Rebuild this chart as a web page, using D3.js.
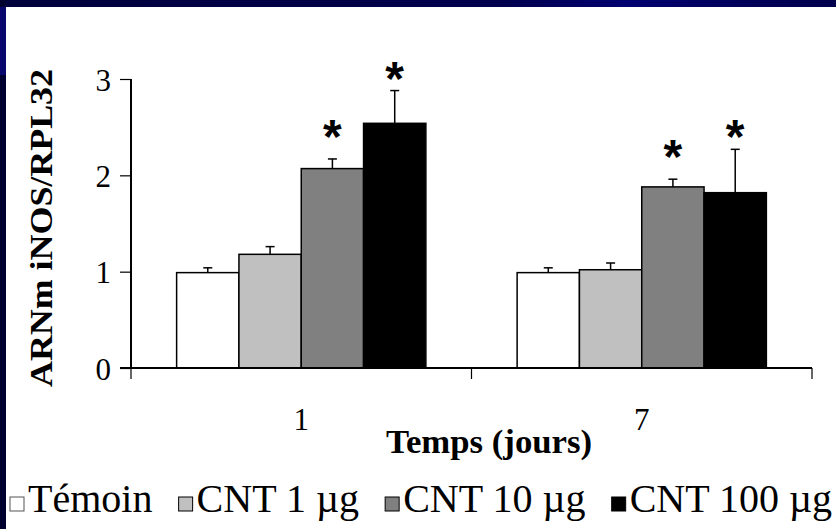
<!DOCTYPE html>
<html>
<head>
<meta charset="utf-8">
<script src="https://cdn.jsdelivr.net/npm/d3@7"></script>
<style>
  html, body { margin: 0; padding: 0; background: #ffffff; }
  svg { display: block; }
  .serif { font-family: "Liberation Serif", Tinos, "Times New Roman", Times, "DejaVu Serif", serif; }
  .sans { font-family: "Liberation Sans", Arimo, Arial, Helvetica, sans-serif; }
</style>
</head>
<body>
<svg id="chart" width="836" height="529"></svg>
<script>
// ---- data ----
const categories = ["1", "7"];
const seriesNames = ["Témoin", "CNT 1 µg", "CNT 10 µg", "CNT 100 µg"];
const temoinValues = [0.99, 0.99];
const cnt1Values   = [1.18, 1.02];
const cnt10Values  = [2.07, 1.88];
const cnt100Values = [2.54, 1.82];
const temoinErr = [0.05, 0.05];
const cnt1Err   = [0.08, 0.07];
const cnt10Err  = [0.10, 0.08];
const cnt100Err = [0.34, 0.45];
const temoinSig = [false, false];
const cnt1Sig   = [false, false];
const cnt10Sig  = [true, true];
const cnt100Sig = [true, true];
const yTicks = [0, 1, 2, 3];
const xTitle = "Temps (jours)";
const yTitle = "ARNm iNOS/RPL32";

// ---- styles ----
const seriesColors = ["#ffffff", "#c0c0c0", "#808080", "#000000"];
const starGap = [0, 0, 33, 23];

const values = [temoinValues, cnt1Values, cnt10Values, cnt100Values];
const errs = [temoinErr, cnt1Err, cnt10Err, cnt100Err];
const sigs = [temoinSig, cnt1Sig, cnt10Sig, cnt100Sig];

const svg = d3.select("#chart");

// slide frame
const defs = svg.append("defs");
const g1 = defs.append("linearGradient").attr("id", "topbar").attr("x1", "0").attr("x2", "1");
g1.append("stop").attr("offset", "0").attr("stop-color", "#00003c");
g1.append("stop").attr("offset", "0.6").attr("stop-color", "#00004e");
g1.append("stop").attr("offset", "0.75").attr("stop-color", "#000070");
g1.append("stop").attr("offset", "0.85").attr("stop-color", "#000060");
g1.append("stop").attr("offset", "1").attr("stop-color", "#00004c");
svg.append("rect").attr("x", 0).attr("y", 0).attr("width", 836).attr("height", 7).attr("fill", "url(#topbar)");
svg.append("rect").attr("x", 0).attr("y", 0).attr("width", 6).attr("height", 529).attr("fill", "#000030");
svg.append("rect").attr("x", 0).attr("y", 7).attr("width", 6).attr("height", 68).attr("fill", "#07076e");

const plotLeft = 131, plotRight = 812, plotTop = 79, plotBottom = 368;

const y = d3.scaleLinear().domain([0, 3]).range([plotBottom, plotTop]);
const x0 = d3.scaleBand().domain(categories).range([plotLeft, plotRight])
  .paddingInner(0.268).paddingOuter(0.134);
const x1 = d3.scaleBand().domain(seriesNames).range([0, x0.bandwidth()]).padding(0);

// bars
const flat = [];
seriesNames.forEach((s, si) => {
  categories.forEach((c, ci) => {
    flat.push({ s, si, c, v: values[si][ci], e: errs[si][ci], sig: sigs[si][ci] });
  });
});

svg.append("g").selectAll("rect").data(flat).join("rect")
  .attr("x", d => x0(d.c) + x1(d.s))
  .attr("y", d => y(d.v))
  .attr("width", x1.bandwidth())
  .attr("height", d => y(0) - y(d.v))
  .attr("fill", d => seriesColors[d.si])
  .attr("stroke", "#000")
  .attr("stroke-width", 1.5);

// error bars (upper only)
const eg = svg.append("g").attr("stroke", "#000").attr("stroke-width", 1.5);
flat.forEach(d => {
  const cx = x0(d.c) + x1(d.s) + x1.bandwidth() / 2;
  eg.append("line").attr("x1", cx).attr("x2", cx).attr("y1", y(d.v)).attr("y2", y(d.v + d.e));
  eg.append("line").attr("x1", cx - 4.5).attr("x2", cx + 4.5).attr("y1", y(d.v + d.e)).attr("y2", y(d.v + d.e));
});

// significance stars
svg.append("g").selectAll("text").data(flat.filter(d => d.sig)).join("text")
  .attr("class", "sans")
  .attr("x", d => x0(d.c) + x1(d.s) + x1.bandwidth() / 2)
  .attr("y", d => y(d.v + d.e) - starGap[d.si] + 27)
  .attr("text-anchor", "middle")
  .attr("font-weight", "bold")
  .attr("font-size", 48)
  .text("*");

// y axis
const yAxis = svg.append("g").attr("transform", `translate(${plotLeft},0)`)
  .call(d3.axisLeft(y).tickValues(yTicks).tickFormat(d3.format("d")).tickSize(11).tickPadding(9));
yAxis.attr("font-family", null).attr("font-size", null);
yAxis.select(".domain").attr("stroke-width", 2).attr("d", `M0,${plotTop}V${plotBottom}`);
yAxis.selectAll(".tick line").attr("stroke-width", 1.2);
yAxis.selectAll(".tick text").attr("class", "serif")
  .attr("font-size", 31).attr("fill", "#000").attr("dy", "0.36em");

// x axis with boundary ticks
const xAxisG = svg.append("g");
xAxisG.append("line").attr("x1", plotLeft - 11).attr("x2", plotRight).attr("y1", plotBottom).attr("y2", plotBottom)
  .attr("stroke", "#000").attr("stroke-width", 2);
const boundaries = [plotLeft, ...categories.slice(1).map(c => x0(c) - x0.step() * x0.paddingInner() / 2), plotRight];
xAxisG.selectAll("line.b").data(boundaries).join("line").attr("class", "b")
  .attr("x1", d => d).attr("x2", d => d).attr("y1", plotBottom).attr("y2", plotBottom + 11)
  .attr("stroke", "#000").attr("stroke-width", 1.2);
xAxisG.selectAll("text").data(categories).join("text")
  .attr("class", "serif")
  .attr("x", d => x0(d) + x0.bandwidth() / 2)
  .attr("y", 430)
  .attr("text-anchor", "middle")
  .attr("font-size", 31)
  .text(d => d);

// axis titles
svg.append("text")
  .attr("class", "serif")
  .attr("x", 489).attr("y", 453)
  .attr("text-anchor", "middle")
  .attr("font-weight", "bold").attr("font-size", 33)
  .attr("textLength", 206).attr("lengthAdjust", "spacingAndGlyphs")
  .text(xTitle);

svg.append("text")
  .attr("class", "serif")
  .attr("transform", "translate(41,228) rotate(-90)")
  .attr("x", 0).attr("y", 11)
  .attr("text-anchor", "middle")
  .attr("font-weight", "bold").attr("font-size", 32)
  .attr("textLength", 318).attr("lengthAdjust", "spacingAndGlyphs")
  .text(yTitle);

// legend
const legFont = 40;
const leg = svg.append("g");
const legStart = 10, legEnd = 832, sq = 14, sqGap = 4;
const items = seriesNames.map((s, i) => {
  const t = leg.append("text").attr("class", "serif")
    .attr("font-size", legFont).attr("y", 512).text(s);
  return { t, w: t.node().getComputedTextLength(), i };
});
const totalW = items.reduce((a, it) => a + sq + sqGap + it.w, 0);
const gap = (legEnd - legStart - totalW) / (items.length - 1);
let cx = legStart;
items.forEach(it => {
  leg.append("rect").attr("x", cx).attr("y", 497).attr("width", sq).attr("height", sq)
    .attr("fill", seriesColors[it.i]).attr("stroke", it.i === 0 ? "#555" : "#000").attr("stroke-width", 1);
  it.t.attr("x", cx + sq + sqGap);
  cx += sq + sqGap + it.w + gap;
});
</script>
</body>
</html>
